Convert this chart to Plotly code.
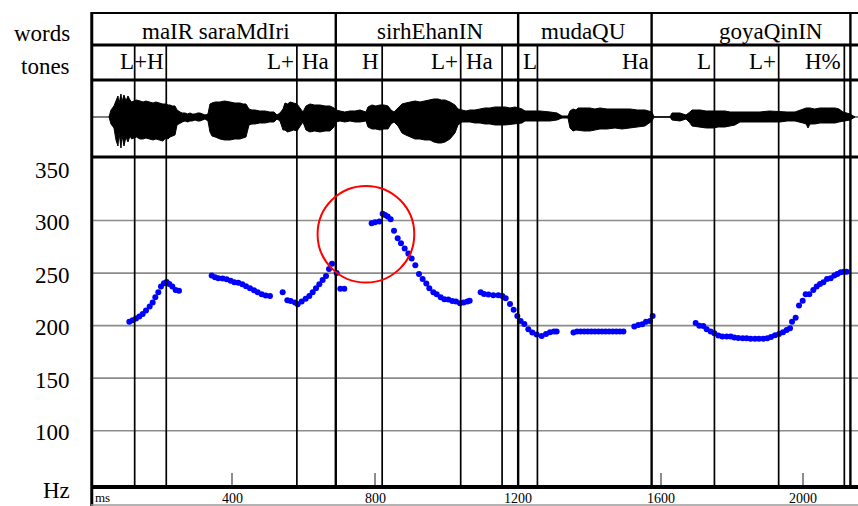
import plotly.graph_objects as go

# ---------------- pitch track (time in ms, F0 in Hz) ----------------
pitch_ms = [
    # maIR saraMdIri
    111.5, 120.8, 130.2, 139.5, 148.9, 158.2, 168.5, 176.9, 184.3, 192.7, 200.2,
    208.6, 216.1, 223.6, 232.0, 241.3, 250.7,
    342.2, 351.5, 360.9, 373.0, 384.2, 395.4, 405.7, 416.9, 428.1, 438.4, 449.6,
    460.8, 471.1, 482.3, 493.5, 505.6,
    541.2, 554.2, 563.6, 575.7, 583.2, 594.4, 605.6, 615.8, 625.2, 634.5, 643.9,
    653.2, 662.6, 671.0, 679.4, 692.5,
    # sirhEhanIN
    702.7, 713.9,
    790.5, 799.9, 812.0, 821.3, 827.9, 835.4, 843.8, 853.1, 863.4, 872.7, 883.0,
    893.3, 902.6, 912.9, 923.1, 933.4, 943.7, 952.1, 963.3, 972.7, 983.9, 994.1,
    1005.3, 1016.5, 1026.8, 1038.0, 1048.3, 1058.6, 1065.1,
    1096.0, 1105.3, 1117.5, 1131.5, 1145.5, 1156.7, 1166.0, 1178.2, 1188.4, 1198.7,
    # mudaQU
    1208.0, 1218.3, 1229.5, 1240.7, 1252.9, 1266.9, 1279.1, 1290.3, 1301.5, 1308.9,
    1356.0, 1366.0, 1376.0, 1386.0, 1396.0, 1406.0, 1416.0, 1426.0, 1436.0, 1446.0,
    1456.0, 1466.0, 1476.0, 1486.0, 1496.0,
    1526.5, 1537.7, 1548.9, 1559.2, 1570.4, 1577.9,
    # goyaQinIN
    1698.4, 1708.7, 1719.9, 1729.3, 1740.5, 1750.7, 1761.9, 1773.1, 1785.3, 1796.5,
    1806.7, 1817.9, 1830.1, 1841.3, 1852.5, 1864.7, 1875.9, 1888.0, 1899.2, 1909.5,
    1920.7, 1931.9, 1943.1, 1953.4, 1962.8, 1968.4, 1978.6, 1988.0, 1998.3, 2006.7,
    2016.9, 2028.1, 2037.5, 2046.8, 2056.2, 2066.5, 2076.7, 2087.0, 2095.4, 2104.7,
    2114.0, 2121.5,
]
pitch_hz = [
    203.8, 205.1, 206.7, 208.6, 211.1, 214.3, 218.1, 221.9, 227.0, 231.8, 237.2,
    240.4, 241.6, 239.7, 237.2, 234.0, 233.1,
    247.6, 246.1, 245.1, 244.8, 244.2, 242.6, 241.3, 240.7, 239.4, 237.5, 235.6,
    233.7, 231.8, 229.9, 228.6, 228.3,
    231.8, 224.2, 223.5, 221.9, 220.4, 222.9, 225.7, 228.3, 231.8, 235.6, 239.4,
    243.5, 247.3, 253.8, 258.8, 250.0,
    235.2, 235.2,
    297.5, 298.4, 299.1, 306.4, 305.4, 303.8, 301.3, 290.2, 283.2, 278.4, 273.4,
    268.6, 263.8, 257.5, 249.2, 244.5, 240.0, 235.6, 231.8, 229.9, 227.0, 225.1,
    224.8, 223.5, 222.9, 221.3, 221.9, 222.9, 223.8,
    231.8, 230.2, 229.6, 228.9, 228.9, 228.3, 226.1, 220.7, 215.0, 209.2,
    204.5, 201.6, 196.5, 193.4, 191.5, 190.2, 192.1, 193.7, 194.3, 194.3,
    193.5, 194.3, 194.3, 194.3, 194.3, 194.3, 194.3, 194.3, 194.3, 194.3,
    194.3, 194.3, 194.3, 194.3, 194.3,
    199.1, 200.7, 201.3, 203.8, 204.5, 209.2,
    202.5, 200.0, 199.7, 196.5, 194.3, 192.7, 190.5, 189.6, 189.6, 189.6,
    188.6, 188.3, 188.0, 188.0, 187.6, 187.6, 187.6, 187.6, 188.0, 189.2,
    190.8, 192.1, 193.7, 195.9, 197.5, 203.8, 207.6, 219.1, 223.8, 229.9,
    229.9, 234.0, 237.2, 239.7, 241.3, 244.5, 245.1, 247.6, 249.2, 250.8,
    251.4, 251.4,
]

# ---------------- waveform envelope (ms, upper / lower amplitude) ----------------
wave_ms = [
    54.5, 60.1, 68.5, 74.1, 79.7, 82.5, 88.1, 90.9, 96.5, 102.1, 107.7, 113.3,
    118.0, 124.5, 131.0, 141.4, 150.0, 158.0, 169.4, 178.0, 186.0, 197.4, 205.0,
    214.2, 220.0, 225.4, 232.0, 239.5, 245.1, 253.5, 260.0, 267.5, 275.0, 281.5,
    288.0, 295.5, 303.0, 309.5, 316.0, 323.5, 331.9, 337.5, 343.1, 352.0, 365.5,
    378.0, 393.6, 407.0, 421.6, 430.0, 438.4, 446.8, 455.0, 463.6, 477.0, 491.6,
    505.0, 516.9, 525.3, 533.7, 542.1, 547.7, 555.0, 561.7, 572.0, 581.3, 589.7,
    598.1, 606.5, 617.7, 630.0, 645.7, 660.0, 673.7, 685.0, 690.6, 701.8, 715.0,
    729.8, 744.0, 757.8, 774.6, 780.2, 791.4, 802.0, 813.8, 825.0, 836.3, 844.7,
    853.1, 864.3, 875.5, 886.0, 897.9, 912.0, 925.9, 940.0, 953.9, 965.0, 976.4,
    986.0, 996.0, 1010.0, 1024.0, 1032.4, 1043.6, 1055.0, 1066.0, 1080.0, 1094.1,
    1108.1, 1122.0, 1136.0, 1150.1, 1165.0, 1178.0, 1192.2, 1211.8, 1220.2, 1240.0,
    1262.2, 1290.3, 1309.9, 1323.9, 1340.7, 1346.3, 1354.7, 1363.1, 1368.7, 1385.0,
    1402.3, 1416.0, 1430.3, 1450.0, 1472.4, 1492.0, 1514.4, 1535.0, 1556.4, 1576.1,
    1581.7, 1626.5, 1632.1, 1654.5, 1671.3, 1682.5, 1688.1, 1700.0, 1710.6, 1728.0,
    1747.0, 1762.0, 1780.6, 1795.0, 1808.6, 1822.7, 1850.0, 1878.7, 1905.0, 1934.8,
    1955.0, 1976.8, 1999.2, 2008.0, 2013.2, 2018.8, 2032.0, 2046.9, 2068.0, 2088.9,
    2100.0, 2111.3, 2130.9, 2144.9,
]
wave_upper = [
    0, 7, 11, 17, 21, 13, 23, 15, 22, 16, 21, 17,
    15, 16, 17, 16, 15, 16, 15, 14, 15, 14, 13,
    13, 12, 12, 11, 11, 7, 5, 4, 4, 3, 4,
    3, 3, 4, 4, 3, 2, 3, 13, 14, 15, 15,
    16, 15, 14, 14, 13, 13, 8, 7, 7, 6, 6,
    5, 5, 2, 4, 8, 14, 13, 15, 14, 13, 9,
    5, 11, 13, 12, 12, 11, 11, 9, 7, 6, 5,
    6, 6, 7, 5, 10, 12, 11, 12, 12, 11, 7,
    5, 9, 13, 14, 15, 16, 15, 16, 17, 18, 18,
    17, 17, 15, 12, 8, 7, 6, 7, 7, 8,
    9, 9, 10, 10, 10, 9, 10, 8, 6, 6,
    6, 5, 4, 1, 1, 6, 8, 7, 9, 9,
    9, 8, 9, 8, 8, 8, 8, 7, 7, 5,
    0, 0, 4, 4, 2, 5, 7, 7, 7, 6,
    6, 6, 6, 5, 5, 5, 5, 5, 6, 5,
    5, 5, 8, 9, 9, 9, 8, 9, 9, 9,
    8, 5, 3, 0,
]
wave_lower = [
    0, -7, -11, -23, -29, -15, -31, -18, -29, -20, -25, -19,
    -22, -21, -20, -22, -22, -21, -22, -23, -22, -23, -24,
    -21, -22, -20, -19, -18, -8, -6, -5, -4, -5, -4,
    -4, -3, -4, -4, -3, -2, -4, -15, -19, -20, -22,
    -23, -23, -22, -22, -21, -20, -8, -7, -7, -6, -6,
    -5, -5, -2, -4, -13, -13, -15, -14, -13, -14, -9,
    -5, -13, -15, -14, -15, -14, -14, -10, -5, -4, -5,
    -4, -5, -5, -4, -10, -12, -12, -13, -12, -12, -7,
    -5, -9, -16, -18, -20, -22, -22, -23, -23, -25, -26,
    -26, -25, -22, -16, -8, -5, -5, -5, -6, -6,
    -7, -7, -8, -8, -8, -7, -7, -6, -4, -4,
    -4, -4, -3, -1, -1, -11, -14, -13, -13, -14,
    -14, -13, -12, -12, -11, -12, -11, -10, -9, -4,
    0, 0, -3, -4, -2, -6, -9, -10, -10, -11,
    -11, -10, -10, -9, -8, -5, -5, -5, -5, -5,
    -4, -4, -6, -7, -11, -7, -7, -6, -6, -6,
    -5, -4, -3, 0,
]

# ---------------- annotation tiers ----------------
word_labels = ["maIR saraMdIri", "sirhEhanIN", "mudaQU", "goyaQinIN"]
word_centers_ms = [354, 955, 1383, 1910]
word_bounds_ms = [690, 1201, 1575, 2132]

tone_labels = ["L+H", "L+", "Ha", "H", "L+", "Ha", "L", "Ha", "L", "L+", "H%"]
tone_at_ms = [147, 581, 581, 820, 1040, 1040, 1201, 1575, 1751, 1931, 2115]
tone_side = ["center", "right", "left", "right", "right", "left", "left",
             "right", "right", "right", "right"]
tone_lines_ms = [126.5, 215, 581, 820, 1040, 1156, 1255, 1751, 1931, 2115]

hz_ticks = [100, 150, 200, 250, 300, 350]
hz_grid = [100, 150, 200, 250, 300]
ms_ticks = [400, 800, 1200, 1600, 2000]

# region of interest around the pitch peak
focus_ms = [639, 910]
focus_hz = [241, 333]

SERIF = "Liberation Serif, Times New Roman, serif"
LABEL_SIZE = 23

# vertical layout (paper fractions)
PITCH_TOP = 0.6949
WAVE_TOP = 0.8581
TONE_TOP = 0.9322

fig = go.Figure()

# waveform: filled envelope plus baseline
fig.add_trace(go.Scatter(
    x=wave_ms + wave_ms[::-1],
    y=wave_upper + wave_lower[::-1],
    mode="lines", fill="toself", fillcolor="black",
    line=dict(color="black", width=1),
    xaxis="x", yaxis="y2", hoverinfo="skip", showlegend=False,
))
fig.add_trace(go.Scatter(
    x=[0, 2200], y=[0, 0], mode="lines",
    line=dict(color="black", width=1),
    xaxis="x", yaxis="y2", hoverinfo="skip", showlegend=False,
))

# F0 track
fig.add_trace(go.Scatter(
    x=pitch_ms, y=pitch_hz, mode="markers",
    marker=dict(color="#0000ff", size=6, line=dict(width=0)),
    xaxis="x", yaxis="y", showlegend=False,
))

shapes = []
# horizontal gridlines of the pitch panel
for v in hz_grid:
    shapes.append(dict(type="line", xref="paper", yref="y", x0=0, x1=1, y0=v, y1=v,
                       line=dict(color="#8c8c8c", width=1.6), layer="below"))
# tone boundaries (tone tier down to the time axis)
for t in tone_lines_ms:
    shapes.append(dict(type="line", xref="x", yref="paper", x0=t, x1=t, y0=0, y1=TONE_TOP,
                       line=dict(color="black", width=1.7)))
# word boundaries (full height)
for t in word_bounds_ms:
    shapes.append(dict(type="line", xref="x", yref="paper", x0=t, x1=t, y0=0, y1=1,
                       line=dict(color="black", width=2.4)))
# tier separators
for yy, w in [(1.0, 2.2), (TONE_TOP, 3), (WAVE_TOP, 3), (PITCH_TOP, 3)]:
    shapes.append(dict(type="line", xref="paper", yref="paper", x0=0, x1=1, y0=yy, y1=yy,
                       line=dict(color="black", width=w)))
# left frame and lower edge of the time-label strip
shapes.append(dict(type="line", xref="paper", yref="paper", x0=0.001, x1=0.001, y0=1.002, y1=-0.046,
                   line=dict(color="black", width=3)))
shapes.append(dict(type="line", xref="paper", yref="paper", x0=0, x1=1, y0=-0.0424, y1=-0.0424,
                   line=dict(color="#9a9a9a", width=1.4)))
# highlighted peak
shapes.append(dict(type="circle", xref="x", yref="y",
                   x0=focus_ms[0], x1=focus_ms[1], y0=focus_hz[0], y1=focus_hz[1],
                   line=dict(color="#ff0000", width=2)))

annotations = []
for lab, c in zip(word_labels, word_centers_ms):
    annotations.append(dict(text=lab, x=c, xref="x", y=0.966, yref="paper",
                            showarrow=False, xanchor="center", yanchor="middle", yshift=-2,
                            font=dict(family=SERIF, size=LABEL_SIZE, color="black")))
for lab, t, side in zip(tone_labels, tone_at_ms, tone_side):
    shift = {"center": 0, "right": -1, "left": 3}[side]
    annotations.append(dict(text=lab, x=t, xref="x", y=0.894, yref="paper",
                            showarrow=False, xanchor=side, yanchor="middle",
                            xshift=shift, yshift=2,
                            font=dict(family=SERIF, size=LABEL_SIZE, color="black")))
for lab, yy, dy in [("words", 0.964, -4), ("tones", 0.893, -3), ("Hz", -0.0125, 0)]:
    annotations.append(dict(text=lab, x=0, xref="paper", y=yy, yref="paper",
                            showarrow=False, xanchor="right", yanchor="middle",
                            xshift=-19, yshift=dy,
                            font=dict(family=SERIF, size=LABEL_SIZE, color="black")))
# frequency scale labels
for v in hz_ticks:
    annotations.append(dict(text=str(v), x=0, xref="paper", y=v, yref="y",
                            showarrow=False, xanchor="right", yanchor="middle",
                            xshift=-19, yshift=-2,
                            font=dict(family=SERIF, size=LABEL_SIZE, color="black")))
# time scale labels
for v in ms_ticks:
    annotations.append(dict(text=str(v), x=v, xref="x", y=0, yref="paper",
                            showarrow=False, xanchor="center", yanchor="middle", yshift=-13,
                            font=dict(family=SERIF, size=14, color="black")))
annotations.append(dict(text="ms", x=0, xref="paper", y=0, yref="paper",
                        showarrow=False, xanchor="left", yanchor="middle", xshift=2, yshift=-12,
                        font=dict(family=SERIF, size=13, color="black")))

fig.update_layout(
    width=858, height=506,
    margin=dict(l=91, r=0, t=13, b=21, pad=0, autoexpand=False),
    paper_bgcolor="white", plot_bgcolor="white",
    showlegend=False,
    xaxis=dict(
        range=[4.1, 2153.3], anchor="y",
        tickvals=ms_ticks, showticklabels=False,
        ticks="inside", ticklen=12, tickwidth=1.5, tickcolor="#8c8c8c",
        showline=True, linewidth=4, linecolor="black",
        showgrid=False, zeroline=False,
    ),
    yaxis=dict(
        domain=[0, PITCH_TOP], range=[48.3, 360.5], anchor="x",
        showticklabels=False, ticks="", showgrid=False, zeroline=False, showline=False,
    ),
    yaxis2=dict(
        domain=[PITCH_TOP, WAVE_TOP], range=[-40, 37], anchor="x",
        showticklabels=False, ticks="", showgrid=False, zeroline=False, showline=False,
    ),
    shapes=shapes,
    annotations=annotations,
)

fig.write_html("out.html")
